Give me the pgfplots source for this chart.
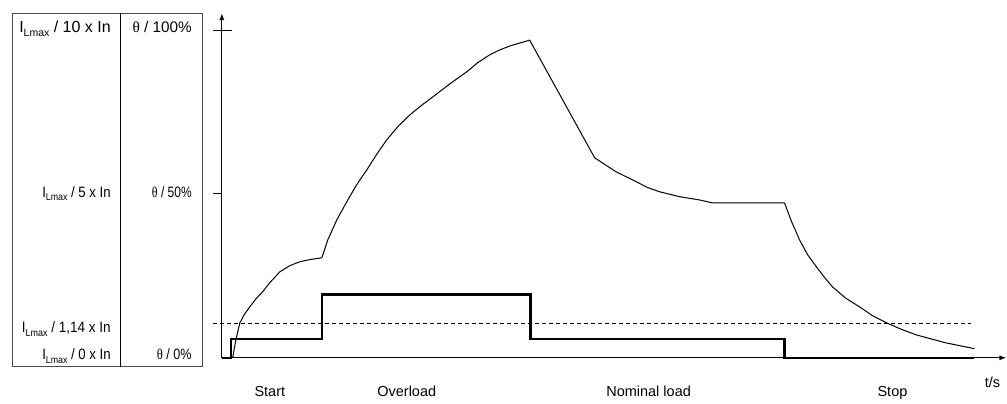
\documentclass[border=0pt]{standalone}
\usepackage{graphicx}
\usepackage{pgfplots}
\pgfplotsset{compat=1.18}
\usepackage{fontspec}
\setmainfont{Liberation Sans}
\newfontfamily\thetafont{Liberation Serif}
\usetikzlibrary{arrows.meta}

% I_Lmax label with lowered subscript: #1 main size, #2 subscript size, #3 factor
\newcommand{\Il}[3]{\fontsize{#1}{#1}\selectfont I\raisebox{-3.5pt}{\fontsize{#2}{#2}\selectfont Lmax} / #3 x In}
\newcommand{\thl}[2]{\fontsize{#1}{#1}\selectfont{\thetafont\char"03B8} / #2}

\begin{document}
\begin{tikzpicture}[font=\fontsize{14.5}{17}\selectfont]
\begin{axis}[
  scale only axis, width=785pt, height=345pt,
  xmin=0, xmax=785, ymin=0, ymax=105.5,
  axis lines=left,
  axis line style={line width=1.2pt, -{Latex[length=7pt,width=5pt]}},
  xtick=\empty, ytick=\empty,
  clip=false,
]
% page extent
\path (axis cs:-222,-12.54) rectangle (axis cs:785,109.48);

% left table
\draw[black!70, line width=1pt] (axis cs:-209,-2.75) rectangle (axis cs:-19,105.5);
\draw[line width=1pt] (axis cs:-101,-2.75) -- (axis cs:-101,105.5);
\node[anchor=base east, inner sep=0] at (axis cs:-111,99.4) {\Il{16}{10.5}{10}};
\node[anchor=base east, inner sep=0] at (axis cs:-111,49.2) {\scalebox{0.88}[1]{\Il{15}{10}{5}}};
\node[anchor=base east, inner sep=0] at (axis cs:-111,7.6) {\scalebox{0.9}[1]{\Il{15}{10}{1,14}}};
\node[anchor=base east, inner sep=0] at (axis cs:-111,-0.6) {\scalebox{0.88}[1]{\Il{15}{10}{0}}};
\node[anchor=base east, inner sep=0] at (axis cs:-30,99.4) {\thl{15.3}{100\%}};
\node[anchor=base east, inner sep=0] at (axis cs:-30,49.2) {\scalebox{0.8}[1]{\thl{15}{50\%}}};
\node[anchor=base east, inner sep=0] at (axis cs:-30,-0.6) {\scalebox{0.84}[1]{\thl{15}{0\%}}};

% ticks on the vertical axis
\draw[line width=1pt] (axis cs:-9,100) -- (axis cs:10,100);
\draw[line width=1pt] (axis cs:-9,50.15) -- (axis cs:0,50.15);

% limit 1,14 x In
\addplot[black, line width=1pt, dash pattern=on 4pt off 3pt] coordinates {(-9,10.4) (750,10.4)};

% current (thick steps)
\addplot[black, line width=2.5pt] coordinates {
  (0,0) (9,0) (9,5.8) (100,5.8) (100,19.3) (309,19.3)
  (309,5.8) (563,5.8) (563,0) (753,0)
};

% thermal image
\addplot[black, line width=1pt, line join=round] coordinates {
  (10,0) (11,0.3) (14,5.5) (18,10.7) (23,13.5) (28,15.6) (34,18) (40,19.9)
  (48,23) (58,26.3) (68,28.2) (78,29.4) (89,30.1) (100,30.6)
  (106,36.1) (115,42.2) (126,48.3) (135,53) (145,57.5) (155,62.3)
  (165,66.7) (176,70.7) (188,74.3) (200,77.3) (211,79.8) (228,83.8)
  (245,87.5) (256,90.3) (268,92.7) (278,94.2) (288,95.4) (298,96.3) (308,97.2)
  (373,61.2) (394,57) (415,53.8) (426,52.1) (438,50.8) (458,49.3) (478,48.3)
  (491,47.4) (563,47.4)
  (570,41.7) (578,36.1) (586,31.6) (595,27.8) (603,24.6) (611,21.7)
  (624,18.3) (638,15.6) (651,12.9) (665,10.7) (680,8.7) (695,7.0)
  (724,4.6) (753,2.8)
};

% phase labels
\node[anchor=base] at (axis cs:48,-11.9) {Start};
\node[anchor=base] at (axis cs:185,-11.9) {Overload};
\node[anchor=base] at (axis cs:427,-11.9) {Nominal load};
\node[anchor=base] at (axis cs:671,-11.9) {Stop};
\node[anchor=base] at (axis cs:771,-9.2) {t/s};
\end{axis}
\end{tikzpicture}
\end{document}
